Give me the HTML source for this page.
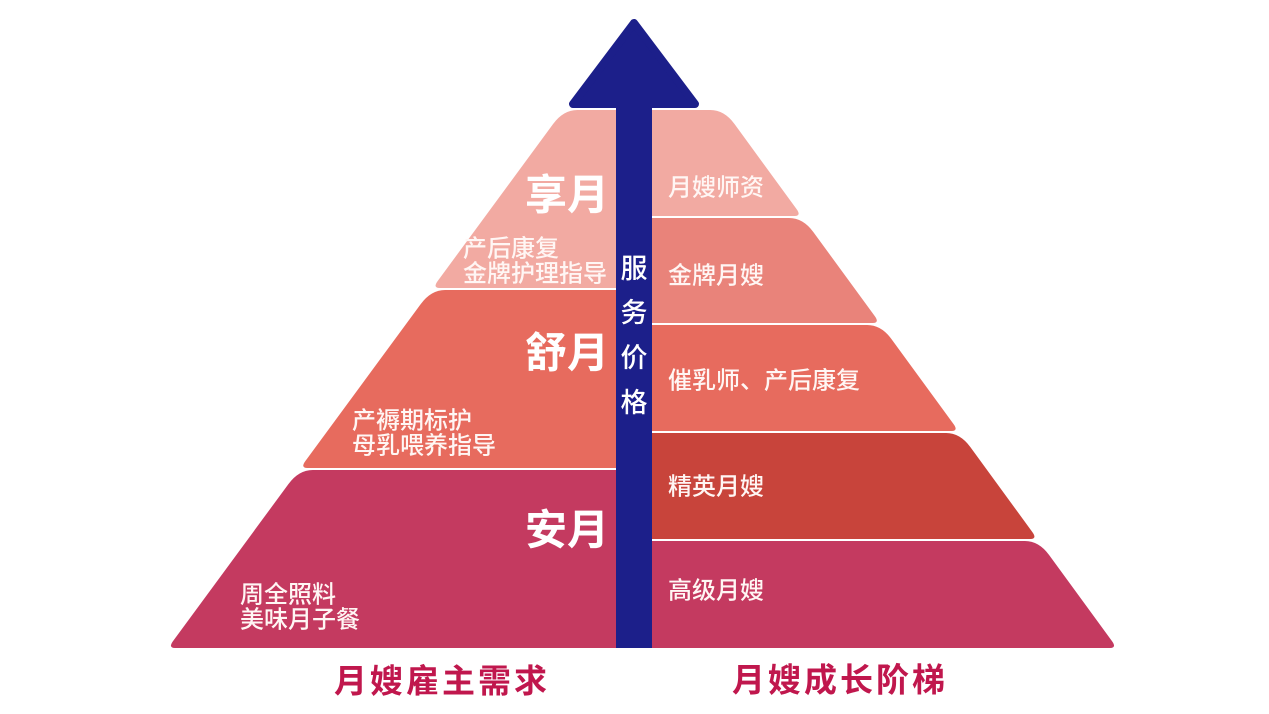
<!DOCTYPE html>
<html>
<head>
<meta charset="utf-8">
<style>
  html,body{margin:0;padding:0;background:#fff;}
  body{width:1269px;height:714px;overflow:hidden;}
  svg{display:block;}
  text{font-family:"Liberation Sans","Noto Sans CJK SC","WenQuanYi Zen Hei",sans-serif;}
  .big{font-size:42px;font-weight:bold;fill:#fff;}
  .sm{font-size:24px;font-weight:500;fill:#fff6f4;}
  .rt{font-size:24px;font-weight:500;fill:#fff6f4;}
  .vt{font-size:27px;font-weight:500;fill:#fff;}
  .ttl{font-size:33px;font-weight:bold;fill:#c0174d;letter-spacing:3px;}
</style>
</head>
<body>
<svg width="1269" height="714" viewBox="0 0 1269 714" xmlns="http://www.w3.org/2000/svg">
  <rect x="0" y="0" width="1269" height="714" fill="#ffffff"/>

  <!-- Left tiers -->
  <path d="M634 110 L577.4 110 Q563.4 110 553.1 124 L437.7 281 Q432.6 288 439.6 288 L634 288 Z" fill="#f2aaa2"/>
  <path d="M634 290 L445.1 290 Q431.1 290 420.8 304 L305.4 461 Q300.3 468 307.3 468 L634 468 Z" fill="#e76b5e"/>
  <path d="M634 470 L312.8 470 Q298.8 470 288.5 484 L173.1 641 Q168 648 175 648 L634 648 Z" fill="#c43a60"/>

  <!-- Right tiers -->
  <path d="M634 110 L710.3 110 Q724.3 110 734.5 124 L796.5 209 Q801.6 216 794.6 216 L634 216 Z" fill="#f2aaa2"/>
  <path d="M634 218 L789.1 218 Q803.1 218 813.3 232 L874.7 316 Q879.8 323 872.8 323 L634 323 Z" fill="#e9837a"/>
  <path d="M634 325 L867.2 325 Q881.2 325 891.4 339 L953.5 424 Q958.6 431 951.6 431 L634 431 Z" fill="#e76b5e"/>
  <path d="M634 433 L946.1 433 Q960.1 433 970.3 447 L1032.3 532 Q1037.4 539 1030.4 539 L634 539 Z" fill="#c8443b"/>
  <path d="M634 541 L1024.9 541 Q1038.9 541 1049.1 555 L1111.9 641 Q1117 648 1110 648 L634 648 Z" fill="#c43a60"/>

  <!-- Arrow -->
  <polygon points="634,23 573,104 695,104" fill="#1c1f8a" stroke="#1c1f8a" stroke-width="8" stroke-linejoin="round"/>
  <rect x="616" y="100" width="36" height="548" fill="#1c1f8a"/>

  <!-- Vertical label -->
  <text class="vt" x="634" y="269" text-anchor="middle" dominant-baseline="central">服</text>
  <text class="vt" x="634" y="313" text-anchor="middle" dominant-baseline="central">务</text>
  <text class="vt" x="634" y="358" text-anchor="middle" dominant-baseline="central">价</text>
  <text class="vt" x="634" y="403" text-anchor="middle" dominant-baseline="central">格</text>

  <!-- Left labels -->
  <text class="big" x="609" y="195" text-anchor="end" dominant-baseline="central">享月</text>
  <text class="sm" x="463" y="249" dominant-baseline="central">产后康复</text>
  <text class="sm" x="463" y="274" dominant-baseline="central">金牌护理指导</text>

  <text class="big" x="609" y="353" text-anchor="end" dominant-baseline="central">舒月</text>
  <text class="sm" x="352" y="421" dominant-baseline="central">产褥期标护</text>
  <text class="sm" x="352" y="446" dominant-baseline="central">母乳喂养指导</text>

  <text class="big" x="609" y="530" text-anchor="end" dominant-baseline="central">安月</text>
  <text class="sm" x="240" y="595" dominant-baseline="central">周全照料</text>
  <text class="sm" x="240" y="620" dominant-baseline="central">美味月子餐</text>

  <!-- Right labels -->
  <text class="rt" x="668" y="188" dominant-baseline="central">月嫂师资</text>
  <text class="rt" x="668" y="276" dominant-baseline="central">金牌月嫂</text>
  <text class="rt" x="668" y="381" dominant-baseline="central">催乳师、产后康复</text>
  <text class="rt" x="668" y="487" dominant-baseline="central">精英月嫂</text>
  <text class="rt" x="668" y="591" dominant-baseline="central">高级月嫂</text>

  <!-- Bottom titles -->
  <text class="ttl" x="442" y="681" text-anchor="middle" dominant-baseline="central">月嫂雇主需求</text>
  <text class="ttl" x="840" y="680" text-anchor="middle" dominant-baseline="central">月嫂成长阶梯</text>
</svg>
</body>
</html>
